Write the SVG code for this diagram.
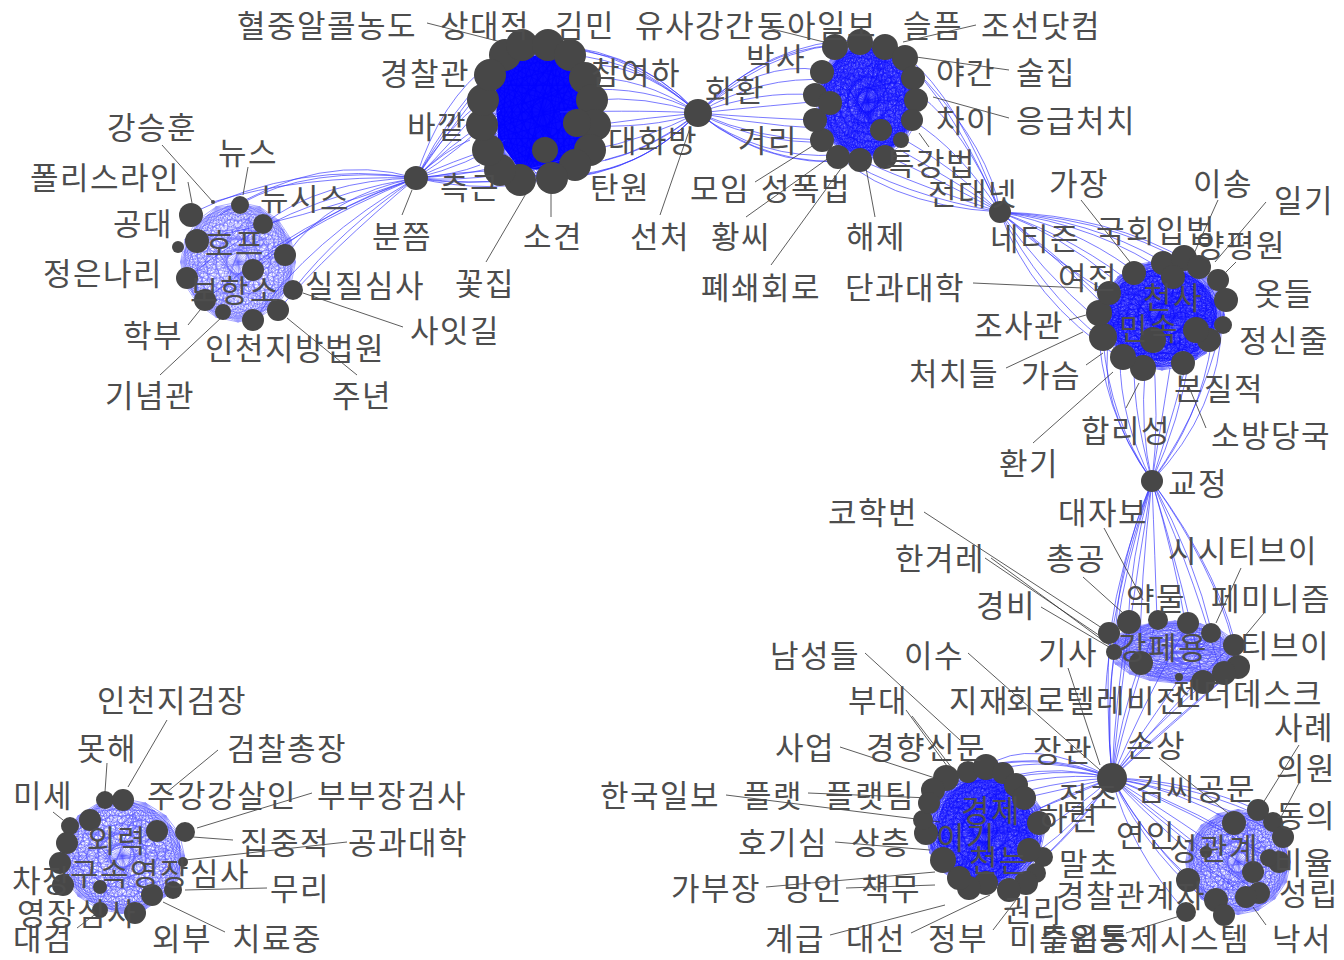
<svg xmlns="http://www.w3.org/2000/svg" xmlns:xlink="http://www.w3.org/1999/xlink" width="1344" height="960" viewBox="0 0 1344 960">
<style>
.t{font-family:"Noto Sans CJK KR","Noto Sans CJK SC",sans-serif;font-size:31px;letter-spacing:1.5px;fill:#4d4d4d}
.n{fill:#474747}
.e{fill:none;stroke:#3838ff;stroke-width:0.9;stroke-opacity:0.75}
.l{fill:none;stroke:#333;stroke-width:0.8}
</style>
<defs>
<g id="mesh">
<path fill="none" stroke="#0000ff" stroke-width="0.8" vector-effect="non-scaling-stroke" d="M50,0 L46,19 35,35 19,46 0,50 -19,46 -35,35 -46,19 -50,0 -46,-19 -35,-35 -19,-46 0,-50 19,-46 35,-35 46,-19Z M50,0 L35,35 0,50 -35,35 -50,0 -35,-35 0,-50 35,-35Z M46,19 L19,46 -19,46 -46,19 -46,-19 -19,-46 19,-46 46,-19Z M50,0 L19,46 -35,35 -46,-19 0,-50 46,-19 35,35 -19,46 -50,0 -19,-46 35,-35 46,19 0,50 -46,19 -35,-35 19,-46Z M50,0 L0,50 -50,0 0,-50Z M46,19 L-19,46 -46,-19 19,-46Z M35,35 L-35,35 -35,-35 35,-35Z M19,46 L-46,19 -19,-46 46,-19Z M50,0 L-19,46 -35,-35 46,-19 0,50 -46,-19 35,-35 19,46 -50,0 19,-46 35,35 -46,19 0,-50 46,19 -35,35 -19,-46Z M50,0 L-35,35 0,-50 35,35 -50,0 35,-35 0,50 -35,-35Z M46,19 L-46,19 19,-46 19,46 -46,-19 46,-19 -19,46 -19,-46Z M50,0 L-46,19 35,-35 -19,46 0,-50 19,46 -35,-35 46,19 -50,0 46,-19 -35,35 19,-46 0,50 -19,-46 35,35 -46,-19Z M50,0 L-50,0 M46,19 L-46,-19 M35,35 L-35,-35 M19,46 L-19,-46 M0,50 L0,-50 M-19,46 L19,-46 M-35,35 L35,-35 M-46,19 L46,-19 M-30,-20 L38,-5 -15,35 10,-38 20,30 -40,10 25,-20 -20,-5 5,18 0,0 38,-5 -40,10 10,-38 -15,35 25,-20 -30,-20 20,30 -20,-5 10,-38 5,18"/>
</g>
</defs>
<rect width="1344" height="960" fill="#ffffff"/>
<g id="connectors">
<path fill="#0a0aff" d="M505,60 L560,52 588,85 592,140 566,168 520,170 498,140 496,90Z"/>
<ellipse cx="868" cy="100" rx="46" ry="55" fill="#0000ff" opacity="0.5"/>
<ellipse cx="1162" cy="315" rx="55" ry="46" fill="#0000ff" opacity="0.55"/>
<ellipse cx="985" cy="830" rx="48" ry="52" fill="#0000ff" opacity="0.55"/>
<use href="#mesh" transform="translate(238,262) scale(1.15,1.2)" opacity="0.4"/>
<use href="#mesh" transform="translate(238,262) rotate(11) scale(1.1,1.15)" opacity="0.3"/>
<use href="#mesh" transform="translate(543,112) scale(1.1,1.4)" opacity="0.7"/>
<use href="#mesh" transform="translate(868,100) scale(1.05,1.2)" opacity="0.55"/>
<use href="#mesh" transform="translate(868,100) rotate(11) scale(1.0,1.15)" opacity="0.55"/>
<use href="#mesh" transform="translate(866,102) rotate(5) scale(0.95,1.1)" opacity="0.45"/>
<use href="#mesh" transform="translate(1162,315) scale(1.25,1.1)" opacity="0.55"/>
<use href="#mesh" transform="translate(1162,315) rotate(11) scale(1.2,1.05)" opacity="0.55"/>
<use href="#mesh" transform="translate(1160,317) rotate(5) scale(1.15,1.0)" opacity="0.45"/>
<use href="#mesh" transform="translate(1175,652) scale(1.3,0.62)" opacity="0.45"/>
<use href="#mesh" transform="translate(1175,652) rotate(7) scale(1.25,0.58)" opacity="0.35"/>
<use href="#mesh" transform="translate(985,830) scale(1.2,1.2)" opacity="0.55"/>
<use href="#mesh" transform="translate(985,830) rotate(11) scale(1.15,1.15)" opacity="0.55"/>
<use href="#mesh" transform="translate(983,832) rotate(5) scale(1.1,1.1)" opacity="0.45"/>
<use href="#mesh" transform="translate(1238,862) scale(1.05,1.05)" opacity="0.45"/>
<use href="#mesh" transform="translate(1238,862) rotate(11) scale(1.0,1.0)" opacity="0.35"/>
<use href="#mesh" transform="translate(122,856) scale(1.25,1.15)" opacity="0.45"/>
<use href="#mesh" transform="translate(122,856) rotate(11) scale(1.2,1.1)" opacity="0.35"/>
<path class="e" d="M416,178 Q300,160 190,214 M416,178 Q310,165 240,204 M416,178 Q320,180 264,224 M416,178 Q330,195 287,254 M416,178 Q320,210 255,270 M416,178 Q340,230 293,290 M416,178 Q330,250 278,310 M416,178 Q300,220 195,240 M416,178 Q310,240 254,320 M416,178 Q290,230 205,300 M416,178 Q280,200 187,278 M416,178 Q300,175 213,202 M416,178 Q320,150 220,215 M416,178 Q340,205 270,250"/>
<path class="e" d="M416,178 Q450,110 505,55 M416,178 Q450,120 490,75 M416,178 Q445,130 483,100 M416,178 Q450,145 482,125 M416,178 Q455,160 488,150 M416,178 Q460,172 500,170 M416,178 Q470,185 520,180 M416,178 Q490,195 552,178 M416,178 Q480,190 575,168 M416,178 Q455,140 495,90 M416,178 Q460,150 500,110 M416,178 Q470,165 505,140 M416,178 Q480,175 515,160 M416,178 Q465,105 522,45 M416,178 Q500,185 590,150 M416,178 Q440,100 492,62 M416,178 Q445,150 470,140 M416,178 Q455,175 480,165"/>
<path class="e" d="M698,113 Q640,60 570,55 M698,113 Q640,75 585,78 M698,113 Q645,95 592,100 M698,113 Q645,118 595,125 M698,113 Q645,140 590,150 M698,113 Q640,160 575,165 M698,113 Q630,50 548,45 M698,113 Q640,175 552,178 M698,113 Q630,40 522,45 M698,113 Q630,185 520,180 M698,113 Q650,85 578,90 M698,113 Q650,130 577,125 M698,113 Q650,110 560,112 M698,113 Q620,30 505,55 M698,113 Q620,195 500,170 M698,113 Q650,70 600,65 M698,113 Q650,150 605,160"/>
<path class="e" d="M698,113 Q760,50 835,45 M698,113 Q760,60 820,70 M698,113 Q760,90 815,95 M698,113 Q760,118 815,120 M698,113 Q760,140 822,140 M698,113 Q760,160 838,155 M698,113 Q770,170 860,160 M698,113 Q770,40 860,40 M698,113 Q775,105 835,100 M698,113 Q780,130 880,130 M698,113 Q760,75 830,80 M698,113 Q780,180 885,155 M698,113 Q790,30 885,47 M698,113 Q770,150 850,140"/>
<path class="e" d="M1000,212 Q960,120 915,70 M1000,212 Q965,130 920,95 M1000,212 Q960,150 912,120 M1000,212 Q950,165 905,140 M1000,212 Q940,180 885,155 M1000,212 Q960,100 905,55 M1000,212 Q930,190 860,160 M1000,212 Q900,195 838,155 M1000,212 Q990,150 925,80 M1000,212 Q970,190 900,150 M1000,212 Q880,205 822,140"/>
<path class="e" d="M1000,212 Q1060,235 1112,278 M1000,212 Q1050,250 1100,295 M1000,212 Q1040,270 1098,320 M1000,212 Q1040,290 1103,340 M1000,212 Q1070,225 1130,268 M1000,212 Q1090,220 1160,260 M1000,212 Q1110,215 1190,262 M1000,212 Q1130,220 1213,280 M1000,212 Q1030,300 1120,358 M1000,212 Q1050,260 1120,300 M1000,212 Q1080,240 1140,290 M1000,212 Q1100,225 1173,277 M1000,212 Q1060,260 1109,310"/>
<path class="e" d="M1152,481 Q1110,420 1103,340 M1152,481 Q1120,420 1120,358 M1152,481 Q1140,430 1145,370 M1152,481 Q1160,430 1170,368 M1152,481 Q1180,420 1190,355 M1152,481 Q1200,420 1212,340 M1152,481 Q1220,410 1222,320 M1152,481 Q1100,410 1098,320 M1152,481 Q1130,400 1135,350 M1152,481 Q1175,410 1195,330 M1152,481 Q1160,420 1152,340 M1152,481 Q1095,400 1110,335 M1152,481 Q1210,400 1226,300"/>
<path class="e" d="M1152,481 Q1120,560 1110,634 M1152,481 Q1130,560 1128,624 M1152,481 Q1155,560 1157,620 M1152,481 Q1175,560 1186,627 M1152,481 Q1195,560 1212,633 M1152,481 Q1215,570 1233,643 M1152,481 Q1225,580 1240,665 M1152,481 Q1200,590 1222,680 M1152,481 Q1185,590 1204,683 M1152,481 Q1140,580 1140,663 M1152,481 Q1115,570 1115,650 M1152,481 Q1100,640 1112,778 M1152,481 Q1125,640 1112,778 M1152,481 Q1110,600 1105,700"/>
<path class="e" d="M1112,778 Q1105,700 1110,634 M1112,778 Q1115,700 1128,624 M1112,778 Q1130,700 1157,620 M1112,778 Q1140,710 1186,627 M1112,778 Q1150,720 1212,633 M1112,778 Q1160,720 1233,643 M1112,778 Q1165,730 1240,665 M1112,778 Q1150,740 1222,680 M1112,778 Q1140,740 1204,683 M1112,778 Q1120,720 1140,663 M1112,778 Q1105,710 1115,650"/>
<path class="e" d="M1112,778 Q1040,745 945,775 M1112,778 Q1040,750 968,770 M1112,778 Q1050,755 995,770 M1112,778 Q1060,765 1015,775 M1112,778 Q1070,780 1030,790 M1112,778 Q1075,795 1040,808 M1112,778 Q1075,810 1042,830 M1112,778 Q1075,825 1040,850 M1112,778 Q1070,840 1030,868 M1112,778 Q1060,850 1010,885 M1112,778 Q1040,760 932,800 M1112,778 Q1050,800 1000,830 M1112,778 Q1040,770 960,800 M1112,778 Q1030,735 986,767 M1112,778 Q1060,790 1024,798"/>
<path class="e" d="M1112,778 Q1190,780 1258,810 M1112,778 Q1180,790 1234,823 M1112,778 Q1200,785 1273,822 M1112,778 Q1210,795 1283,837 M1112,778 Q1200,810 1279,862 M1112,778 Q1180,820 1253,872 M1112,778 Q1180,840 1259,893 M1112,778 Q1170,840 1246,897 M1112,778 Q1140,830 1188,880 M1112,778 Q1160,815 1206,852 M1112,778 Q1150,850 1216,900 M1112,778 Q1150,860 1224,915 M1112,778 Q1130,850 1186,912 M1112,778 Q1190,810 1269,858"/>
<path class="l" d="M427,23 L513,45 M768,28 L828,43 M976,25 L903,42 M1009,70 L916,57 M1009,118 L933,97 M919,133 L929,147 M162,145 L213,202 M248,167 L243,195 M188,182 L192,203 M412,190 L402,215 M303,293 L403,327 M188,325 L200,310 M160,375 L222,317 M357,375 L287,318 M486,262 L531,185 M551,217 L551,187 M660,215 L690,128 M755,182 L822,140 M746,217 L830,157 M771,265 L845,163 M875,217 L866,168 M973,283 L1083,288 M1069,320 L1086,315 M1006,368 L1083,332 M1086,365 L1103,353 M1033,443 L1113,372 M1126,408 L1139,383 M1206,428 L1189,387 M1081,200 L1130,262 M1218,200 L1192,258 M1266,202 L1215,262 M1236,262 L1226,272 M924,512 L1105,630 M991,558 L1109,645 M985,558 L1106,640 M1041,607 L1109,647 M1083,577 L1123,613 M1104,528 L1143,600 M1241,568 L1216,623 M1264,613 L1244,637 M968,653 L1100,770 M865,653 L960,740 M1068,668 L1100,765 M906,710 L950,770 M912,716 L955,772 M840,747 L935,778 M726,795 L940,822 M808,793 L930,798 M835,842 L930,850 M766,887 L935,872 M846,888 L935,885 M830,935 L945,905 M911,933 L990,895 M993,930 L1016,900 M1126,933 L1183,915 M1266,925 L1253,907 M1299,745 L1263,803 M1299,783 L1281,817 M1159,758 L1233,817 M167,720 L128,787 M107,763 L105,792 M218,750 L167,792 M53,812 L63,820 M312,793 L197,828 M233,840 L193,837 M347,842 L185,860 M267,888 L185,890 M225,932 L163,902 M77,928 L97,913"/>
</g>
<g id="hubs">
<circle id="hub1" class="n" cx="416" cy="178" r="12"/>
<circle id="hub2" class="n" cx="698" cy="113" r="14"/>
<circle id="hub3" class="n" cx="1000" cy="212" r="11"/>
<circle id="hub4" class="n" cx="1152" cy="481" r="11"/>
<circle id="hub5" class="n" cx="1112" cy="778" r="15"/>
</g>
<g id="clusterA">
<circle class="n" cx="191" cy="215" r="12"/><circle class="n" cx="240" cy="205" r="9"/><circle class="n" cx="263" cy="224" r="10"/><circle class="n" cx="213" cy="202" r="2"/><circle class="n" cx="178" cy="247" r="6"/><circle class="n" cx="197" cy="241" r="12"/><circle class="n" cx="285" cy="255" r="11"/><circle class="n" cx="253" cy="270" r="11"/><circle class="n" cx="187" cy="278" r="11"/><circle class="n" cx="205" cy="300" r="11"/><circle class="n" cx="223" cy="312" r="8"/><circle class="n" cx="253" cy="320" r="11"/><circle class="n" cx="278" cy="310" r="11"/><circle class="n" cx="293" cy="290" r="10"/>
</g>
<g id="clusterB">
<circle class="n" cx="505" cy="55" r="16"/><circle class="n" cx="522" cy="45" r="16"/><circle class="n" cx="548" cy="45" r="16"/><circle class="n" cx="570" cy="55" r="16"/><circle class="n" cx="585" cy="78" r="16"/><circle class="n" cx="592" cy="100" r="16"/><circle class="n" cx="595" cy="125" r="16"/><circle class="n" cx="590" cy="150" r="16"/><circle class="n" cx="575" cy="165" r="16"/><circle class="n" cx="552" cy="178" r="16"/><circle class="n" cx="520" cy="180" r="16"/><circle class="n" cx="500" cy="170" r="16"/><circle class="n" cx="488" cy="150" r="16"/><circle class="n" cx="482" cy="125" r="16"/><circle class="n" cx="483" cy="100" r="16"/><circle class="n" cx="490" cy="75" r="16"/><circle class="n" cx="545" cy="150" r="13"/><circle class="n" cx="577" cy="123" r="14"/>
</g>
<g id="clusterC">
<circle class="n" cx="835" cy="47" r="13"/><circle class="n" cx="860" cy="42" r="13"/><circle class="n" cx="885" cy="47" r="13"/><circle class="n" cx="905" cy="58" r="13"/><circle class="n" cx="913" cy="78" r="12"/><circle class="n" cx="916" cy="100" r="12"/><circle class="n" cx="912" cy="120" r="11"/><circle class="n" cx="901" cy="140" r="8"/><circle class="n" cx="885" cy="157" r="12"/><circle class="n" cx="860" cy="160" r="12"/><circle class="n" cx="838" cy="157" r="12"/><circle class="n" cx="822" cy="140" r="12"/><circle class="n" cx="815" cy="120" r="12"/><circle class="n" cx="815" cy="95" r="12"/><circle class="n" cx="822" cy="72" r="12"/><circle class="n" cx="830" cy="103" r="12"/><circle class="n" cx="881" cy="130" r="11"/>
</g>
<g id="clusterD">
<circle class="n" cx="1134" cy="273" r="12"/><circle class="n" cx="1163" cy="263" r="12"/><circle class="n" cx="1184" cy="258" r="13"/><circle class="n" cx="1199" cy="267" r="12"/><circle class="n" cx="1218" cy="280" r="11"/><circle class="n" cx="1226" cy="300" r="12"/><circle class="n" cx="1223" cy="325" r="9"/><circle class="n" cx="1209" cy="340" r="12"/><circle class="n" cx="1196" cy="330" r="13"/><circle class="n" cx="1183" cy="363" r="12"/><circle class="n" cx="1143" cy="368" r="13"/><circle class="n" cx="1123" cy="357" r="13"/><circle class="n" cx="1103" cy="337" r="14"/><circle class="n" cx="1099" cy="313" r="13"/><circle class="n" cx="1109" cy="293" r="12"/><circle class="n" cx="1153" cy="340" r="13"/><circle class="n" cx="1173" cy="277" r="12"/>
</g>
<g id="clusterE">
<circle class="n" cx="1109" cy="633" r="11"/><circle class="n" cx="1129" cy="622" r="12"/><circle class="n" cx="1158" cy="620" r="10"/><circle class="n" cx="1188" cy="623" r="11"/><circle class="n" cx="1211" cy="633" r="10"/><circle class="n" cx="1234" cy="645" r="11"/><circle class="n" cx="1238" cy="667" r="12"/><circle class="n" cx="1224" cy="673" r="12"/><circle class="n" cx="1203" cy="682" r="12"/><circle class="n" cx="1141" cy="663" r="12"/><circle class="n" cx="1114" cy="652" r="8"/><circle class="n" cx="1179" cy="677" r="4"/>
</g>
<g id="clusterF">
<circle class="n" cx="946" cy="778" r="13"/><circle class="n" cx="968" cy="772" r="11"/><circle class="n" cx="986" cy="767" r="13"/><circle class="n" cx="1003" cy="773" r="11"/><circle class="n" cx="1016" cy="785" r="12"/><circle class="n" cx="1024" cy="798" r="12"/><circle class="n" cx="1039" cy="823" r="12"/><circle class="n" cx="1043" cy="857" r="10"/><circle class="n" cx="1029" cy="850" r="12"/><circle class="n" cx="1036" cy="873" r="10"/><circle class="n" cx="1026" cy="883" r="12"/><circle class="n" cx="1009" cy="890" r="12"/><circle class="n" cx="986" cy="883" r="12"/><circle class="n" cx="969" cy="888" r="12"/><circle class="n" cx="959" cy="878" r="12"/><circle class="n" cx="943" cy="860" r="13"/><circle class="n" cx="926" cy="833" r="12"/><circle class="n" cx="923" cy="820" r="10"/><circle class="n" cx="933" cy="790" r="12"/><circle class="n" cx="929" cy="803" r="11"/>
</g>
<g id="clusterG">
<circle class="n" cx="1258" cy="810" r="11"/><circle class="n" cx="1234" cy="823" r="12"/><circle class="n" cx="1273" cy="822" r="10"/><circle class="n" cx="1283" cy="837" r="11"/><circle class="n" cx="1279" cy="862" r="11"/><circle class="n" cx="1253" cy="872" r="11"/><circle class="n" cx="1259" cy="893" r="11"/><circle class="n" cx="1246" cy="897" r="11"/><circle class="n" cx="1188" cy="880" r="12"/><circle class="n" cx="1206" cy="852" r="6"/><circle class="n" cx="1216" cy="900" r="12"/><circle class="n" cx="1224" cy="915" r="11"/><circle class="n" cx="1186" cy="912" r="10"/><circle class="n" cx="1269" cy="858" r="9"/>
</g>
<g id="clusterH">
<circle class="n" cx="105" cy="800" r="9"/><circle class="n" cx="123" cy="800" r="11"/><circle class="n" cx="90" cy="820" r="11"/><circle class="n" cx="70" cy="826" r="9"/><circle class="n" cx="67" cy="843" r="11"/><circle class="n" cx="60" cy="863" r="11"/><circle class="n" cx="63" cy="885" r="11"/><circle class="n" cx="100" cy="887" r="7"/><circle class="n" cx="100" cy="910" r="8"/><circle class="n" cx="135" cy="913" r="11"/><circle class="n" cx="152" cy="895" r="11"/><circle class="n" cx="173" cy="890" r="9"/><circle class="n" cx="183" cy="862" r="5"/><circle class="n" cx="185" cy="832" r="10"/><circle class="n" cx="157" cy="831" r="11"/>
</g>
<g id="labels">
<text class="t" x="237" y="37">혈중알콜농도</text>
<text class="t" x="440" y="37">상대적</text>
<text class="t" x="555" y="37">김민</text>
<text class="t" x="635" y="37">유사강간</text>
<text class="t" x="757" y="37">동아일보</text>
<text class="t" x="903" y="37">슬픔</text>
<text class="t" x="981" y="37">조선닷컴</text>
<text class="t" x="746" y="70">박사</text>
<text class="t" x="380" y="85">경찰관</text>
<text class="t" x="591" y="84">참여하</text>
<text class="t" x="936" y="84">야간</text>
<text class="t" x="1016" y="84">술집</text>
<text class="t" x="705" y="102">화환</text>
<text class="t" x="407" y="138">바깥</text>
<text class="t" x="936" y="132">차이</text>
<text class="t" x="1016" y="132">응급처치</text>
<text class="t" x="107" y="139">강승훈</text>
<text class="t" x="608" y="152">대화방</text>
<text class="t" x="738" y="152">거리</text>
<text class="t" x="218" y="164">뉴스</text>
<text class="t" x="30" y="189">폴리스라인</text>
<text class="t" x="886" y="175">특강법</text>
<text class="t" x="928" y="205">전대넷</text>
<text class="t" x="1049" y="195">가장</text>
<text class="t" x="1193" y="195">이송</text>
<text class="t" x="1274" y="212">일기</text>
<text class="t" x="590" y="199">탄원</text>
<text class="t" x="690" y="200">모임</text>
<text class="t" x="761" y="200">성폭법</text>
<text class="t" x="440" y="199">측근</text>
<text class="t" x="260" y="210">뉴시스</text>
<text class="t" x="113" y="235">공대</text>
<text class="t" x="372" y="248">분쯤</text>
<text class="t" x="523" y="248">소견</text>
<text class="t" x="630" y="248">선처</text>
<text class="t" x="711" y="248">황씨</text>
<text class="t" x="846" y="248">해제</text>
<text class="t" x="990" y="250">네티즌</text>
<text class="t" x="1096" y="242">국회입법</text>
<text class="t" x="1196" y="257">양평원</text>
<text class="t" x="205" y="255">호프</text>
<text class="t" x="43" y="285">정은나리</text>
<text class="t" x="190" y="302">보항소</text>
<text class="t" x="305" y="297">실질심사</text>
<text class="t" x="455" y="295">꽃집</text>
<text class="t" x="701" y="299">폐쇄회로</text>
<text class="t" x="845" y="299">단과대학</text>
<text class="t" x="1058" y="289">여전</text>
<text class="t" x="1143" y="309">천사</text>
<text class="t" x="1254" y="305">옷들</text>
<text class="t" x="1119" y="340">민속</text>
<text class="t" x="974" y="337">조사관</text>
<text class="t" x="1239" y="352">정신줄</text>
<text class="t" x="123" y="347">학부</text>
<text class="t" x="205" y="360">인천지방법원</text>
<text class="t" x="410" y="342">사잇길</text>
<text class="t" x="909" y="385">처치들</text>
<text class="t" x="1021" y="387">가슴</text>
<text class="t" x="1174" y="400">본질적</text>
<text class="t" x="105" y="407">기념관</text>
<text class="t" x="332" y="407">주년</text>
<text class="t" x="1081" y="442">합리성</text>
<text class="t" x="1211" y="447">소방당국</text>
<text class="t" x="999" y="475">환기</text>
<text class="t" x="1168" y="495">교정</text>
<text class="t" x="828" y="524">코학번</text>
<text class="t" x="1058" y="524">대자보</text>
<text class="t" x="895" y="570">한겨레</text>
<text class="t" x="1046" y="570">총공</text>
<text class="t" x="1168" y="562">시시티브이</text>
<text class="t" x="976" y="617">경비</text>
<text class="t" x="1126" y="610">약물</text>
<text class="t" x="1211" y="610">페미니즘</text>
<text class="t" x="1038" y="664">기사</text>
<text class="t" x="1118" y="659">강페용</text>
<text class="t" x="1240" y="657">티브이</text>
<text class="t" x="770" y="667">남성들</text>
<text class="t" x="904" y="667">이수</text>
<text class="t" x="848" y="712">부대</text>
<text class="t" x="949" y="712">지재</text>
<text class="t" x="1006" y="712">회로텔레비전</text>
<text class="t" x="1173" y="705">젠더데스크</text>
<text class="t" x="1274" y="739">사례</text>
<text class="t" x="775" y="759">사업</text>
<text class="t" x="866" y="759">경향신문</text>
<text class="t" x="1033" y="762">장관</text>
<text class="t" x="1126" y="757">손상</text>
<text class="t" x="1276" y="780">의원</text>
<text class="t" x="600" y="807">한국일보</text>
<text class="t" x="743" y="807">플랫</text>
<text class="t" x="825" y="807">플랫팀</text>
<text class="t" x="1136" y="800">김씨공문</text>
<text class="t" x="1276" y="827">동의</text>
<text class="t" x="961" y="822">경제</text>
<text class="t" x="1059" y="809">점조</text>
<text class="t" x="1039" y="830">하련</text>
<text class="t" x="936" y="849">이기</text>
<text class="t" x="738" y="854">호기심</text>
<text class="t" x="851" y="854">상층</text>
<text class="t" x="1116" y="847">연인</text>
<text class="t" x="1169" y="860">성관계</text>
<text class="t" x="1274" y="874">비율</text>
<text class="t" x="969" y="872">천는</text>
<text class="t" x="1059" y="875">말초</text>
<text class="t" x="671" y="900">가부장</text>
<text class="t" x="783" y="900">망인</text>
<text class="t" x="861" y="900">책무</text>
<text class="t" x="1056" y="907">경찰관계자</text>
<text class="t" x="1279" y="905">성립</text>
<text class="t" x="1003" y="922">권리</text>
<text class="t" x="765" y="950">계급</text>
<text class="t" x="846" y="950">대선</text>
<text class="t" x="928" y="950">정부</text>
<text class="t" x="1009" y="950">미투운동</text>
<text class="t" x="1040" y="950">출입통제시스템</text>
<text class="t" x="1272" y="950">낙서</text>
<text class="t" x="97" y="712">인천지검장</text>
<text class="t" x="77" y="760">못해</text>
<text class="t" x="227" y="760">검찰총장</text>
<text class="t" x="13" y="807">미세</text>
<text class="t" x="147" y="807">주강강살인</text>
<text class="t" x="317" y="807">부부장검사</text>
<text class="t" x="87" y="852">외력</text>
<text class="t" x="240" y="854">집중적</text>
<text class="t" x="348" y="854">공과대학</text>
<text class="t" x="70" y="885">구속영장</text>
<text class="t" x="190" y="885">심사</text>
<text class="t" x="12" y="892">차장</text>
<text class="t" x="270" y="900">무리</text>
<text class="t" x="17" y="925">영장심사</text>
<text class="t" x="13" y="950">대검</text>
<text class="t" x="152" y="950">외부</text>
<text class="t" x="232" y="950">치료중</text>
</g>
</svg>
